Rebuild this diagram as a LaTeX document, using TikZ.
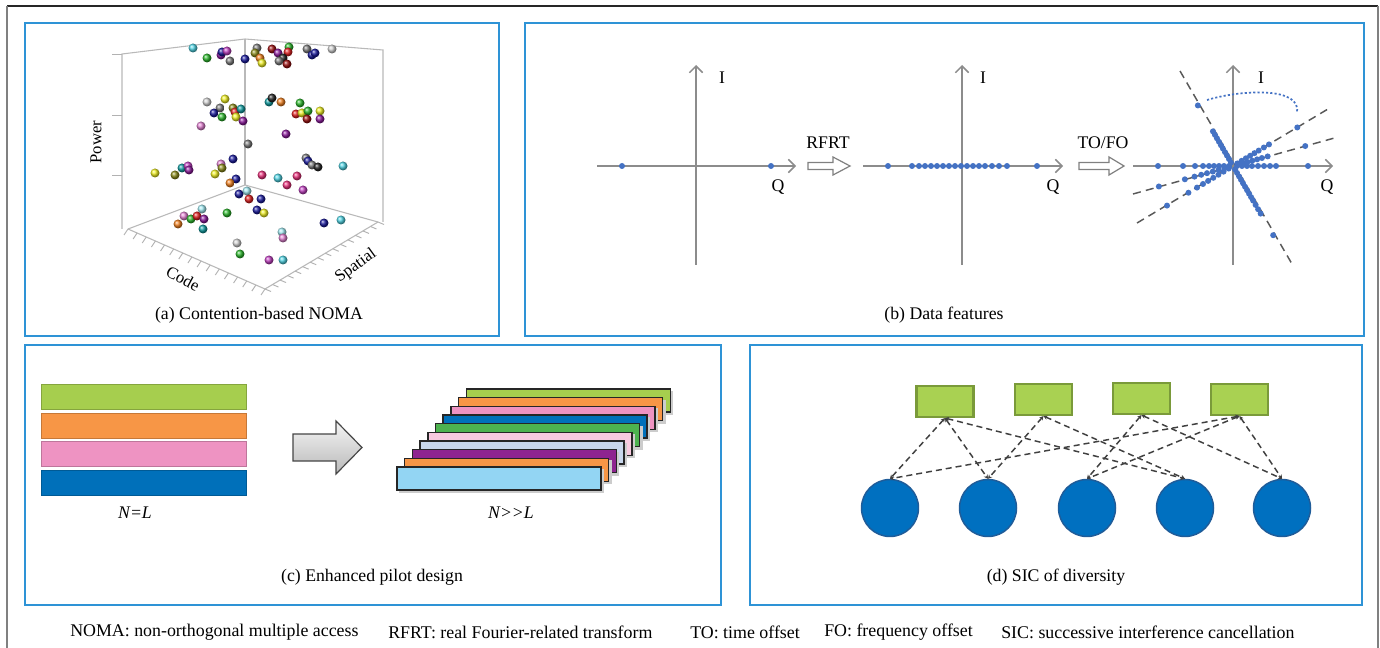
\documentclass[tikz,border=0pt]{standalone}
\usepackage{fontspec}
\setmainfont{Liberation Serif}
\usetikzlibrary{arrows.meta,calc}

\definecolor{panelblue}{HTML}{2E93D6}
\definecolor{axisgray}{HTML}{8C8C8C}
\definecolor{dotblue}{HTML}{4472C4}
\definecolor{limefill}{HTML}{A9D152}
\definecolor{limeedge}{HTML}{7A9A3A}
\definecolor{ueblue}{HTML}{0070C0}
\definecolor{ueedge}{HTML}{1F5C99}
\definecolor{barlime}{HTML}{A6CE4E}
\definecolor{barorange}{HTML}{F79646}
\definecolor{barpink}{HTML}{EE93C2}
\definecolor{barblue}{HTML}{0070BA}
\definecolor{bargreen}{HTML}{4DB24F}
\definecolor{barlpink}{HTML}{F8CADF}
\definecolor{barpale}{HTML}{C9D7EC}
\definecolor{barpurple}{HTML}{8E2490}
\definecolor{barlblue}{HTML}{93D5F3}
% sphere colours for the scatter
\definecolor{bcyan}{HTML}{4FD3E3}
\definecolor{bgreen}{HTML}{2DB82D}
\definecolor{bnavy}{HTML}{1A1A9C}
\definecolor{bmag}{HTML}{C040C0}
\definecolor{bpurple}{HTML}{8B1A9B}
\definecolor{bgray}{HTML}{7A7A7A}
\definecolor{bblack}{HTML}{262626}
\definecolor{bolive}{HTML}{8A8A1A}
\definecolor{borange}{HTML}{F08020}
\definecolor{byellow}{HTML}{EEEE22}
\definecolor{bdred}{HTML}{9B1010}
\definecolor{bred}{HTML}{E02020}
\definecolor{blgray}{HTML}{CFCFCF}
\definecolor{bteal}{HTML}{109CA0}
\definecolor{bpink}{HTML}{E080D0}
\definecolor{bhot}{HTML}{E8307A}
\definecolor{blcyan}{HTML}{A0E8F0}

\tikzset{
  panel/.style={draw=panelblue, line width=1.2pt},
  caption/.style={font=\fontsize{13.3}{16}\selectfont, inner sep=0pt},
  note/.style={font=\fontsize{13.4}{16}\selectfont, inner sep=0pt, anchor=west},
  wall/.style={draw=gray!55, line width=0.8pt},
  tick/.style={draw=gray!60, line width=0.7pt},
  ball/.style={shading=ball, ball color=#1},
  iqaxis/.style={draw=axisgray, line width=1.1pt, -{Straight Barb[length=5pt,width=10pt]}},
  sym/.style={fill=dotblue},
  guide/.style={draw=gray!70!black, line width=1.1pt, dash pattern=on 6pt off 4pt},
  hollow/.style={draw=gray, line width=0.9pt, fill=white},
  stripe/.style={draw=#1!80!black, fill=#1, line width=0.6pt},
  layer/.style={draw=black!85, fill=#1, line width=1.1pt},
  pilotbox/.style={draw=limeedge, fill=limefill, line width=1.6pt, minimum width=57*0.75pt, minimum height=31*0.75pt, inner sep=0pt},
  ue/.style={circle, draw=ueedge, fill=ueblue, line width=1.1pt, minimum size=57*0.75pt, inner sep=0pt},
  link/.style={draw=black!75, line width=1.1pt, dash pattern=on 4.5pt off 3pt, {Stealth[length=3pt,width=3.2pt]}-{Stealth[length=3pt,width=3.2pt]}}
}

\begin{document}
\begin{tikzpicture}[x=0.75pt, y=-0.75pt]
\useasboundingbox (0,0) rectangle (1380,648);
\fill[white] (0,0) rectangle (1380,648);

% outer frame
\draw[black!85, line width=1.2pt] (7,6) -- (1378,6);
\draw[gray, line width=1.5pt] (7,6) -- (7,660);
\draw[gray, line width=1.5pt] (1378,6) -- (1378,660);

% panel frames
\draw[panel] (25,23) rectangle (499,336);
\draw[panel] (525,23) rectangle (1364,336);
\draw[panel] (25,345) rectangle (721,605);
\draw[panel] (750,345) rectangle (1362,605);

% ---------- (a) 3-D scatter ----------
\coordinate (tl) at (122,54);
\coordinate (tb) at (245,39);
\coordinate (tr) at (383,50);
\coordinate (bl) at (122,229);
\coordinate (bb) at (245,185);
\coordinate (br) at (383,222);
\coordinate (fl) at (128,229);
\coordinate (ff) at (265,289);
\coordinate (fr) at (378,222);
\draw[wall] (bl) -- (tl) -- (tb) -- (tr) -- (br);
\draw[wall] (tb) -- (bb);
\draw[wall] (fl) -- (bb) -- (fr);
\draw[wall] (fl) -- (ff) -- (fr);
\foreach \y in {54,115,175} \draw[tick] (122,\y) -- (112,\y);
\foreach \i in {0,...,15} {
  \draw[tick] ($(fl)!\i/15!(ff)$) -- ++(-4,6);
  \draw[tick] ($(ff)!\i/15!(fr)$) -- ++(6,2.5);
}
\node[caption, rotate=90, font=\fontsize{12.5}{15}\selectfont] (lpower) at (96,142) {Power};
\node[caption, rotate=-28, font=\fontsize{12.5}{15}\selectfont] (lcode) at (183,279) {Code};
\node[caption, rotate=36, font=\fontsize{12.5}{15}\selectfont] (lspatial) at (356,266) {Spatial};

\foreach \x/\y/\c in {
 193/48/bcyan, 207/58/bgreen, 221/55/bpurple, 222/52/bnavy, 227/51/bmag, 230/61/bgray,
 245/59/bnavy, 257/48/bgray, 255/53/bolive, 260/58/borange, 262/63/byellow,
 272/49/bdred, 278/53/bpurple, 289/47/bgreen, 288/52/bred, 283/58/bblack, 279/61/bgray,
 287/64/bdred, 307/49/bgray, 312/55/bnavy, 315/53/bnavy, 332/49/blgray,
 207/102/blgray, 225/99/byellow, 220/108/bgray, 214/113/bnavy, 222/117/bgreen,
 233/108/bolive, 235/112/bred, 241/109/bteal, 236/117/byellow, 243/121/bpurple,
 201/126/bpink, 269/102/bteal, 272/98/bblack, 281/102/borange, 300/103/bgreen,
 296/114/bred, 302/113/byellow, 308/111/bgreen, 307/119/bdred, 320/111/byellow,
 320/119/bpurple, 286/134/bpurple, 248/144/bgray,
 155/173/byellow, 175/175/bolive, 182/168/bteal, 188/166/bmag, 189/170/bpurple,
 215/174/byellow, 221/164/bpink, 222/168/bolive, 233/159/bnavy, 236/179/bnavy,
 230/183/borange, 262/175/bhot, 278/178/bcyan, 287/185/bhot, 297/176/bhot,
 303/190/bmag, 306/158/bgray, 308/161/bnavy, 312/165/bgray, 318/167/bblack, 343/166/bcyan,
 247/191/blcyan, 239/194/bnavy, 249/199/bred, 261/199/bnavy, 257/210/bnavy,
 264/213/byellow, 227/213/bgreen, 202/209/blcyan, 184/216/bpink, 191/219/bgreen,
 197/216/bred, 204/219/bpurple, 178/224/borange, 203/229/bteal, 324/223/bnavy,
 341/220/bcyan, 282/232/blcyan, 283/238/bpink, 237/243/blgray, 240/254/bgreen,
 269/260/bmag, 283/260/bcyan}
  \shade[ball=\c] (\x,\y) circle (4.5);

\node[caption] (capa) at (259,315) {(a) Contention-based NOMA};

% ---------- (b) constellations ----------
% first plane
\coordinate (o1) at (696,166);
\draw[iqaxis] ($(o1)+(0,99)$) -- ($(o1)+(0,-101)$);
\draw[iqaxis] ($(o1)+(-99,0)$) -- ($(o1)+(100,0)$);
\node[caption] (i1) at (722,78) {I};
\node[caption] (q1) at (778,187) {Q};
\foreach \d in {-74,75} \fill[sym] ($(o1)+(\d,0)$) circle (3);

% RFRT step
\draw[hollow] (808,162.5) -- (833,162.5) -- (833,157) -- (850,166) -- (833,175) -- (833,169.5) -- (808,169.5) -- cycle;
\node[caption] (rfrt) at (828,143) {RFRT};

% second plane
\coordinate (o2) at (962,166);
\draw[iqaxis] ($(o2)+(0,99)$) -- ($(o2)+(0,-101)$);
\draw[iqaxis] ($(o2)+(-99,0)$) -- ($(o2)+(101,0)$);
\node[caption] (i2) at (983,78) {I};
\node[caption] (q2) at (1053,187) {Q};
\foreach \d in {-74,-50,-43,-37,-31,-25,-19,-13,-7,-1,5,11,17,23,30,37,45,75}
  \fill[sym] ($(o2)+(\d,0)$) circle (3);

% TO/FO step
\draw[hollow] (1079,162.5) -- (1109,162.5) -- (1109,157) -- (1124,166) -- (1109,175) -- (1109,169.5) -- (1079,169.5) -- cycle;
\node[caption] (tofo) at (1103,143) {TO/FO};

% third plane
\coordinate (o3) at (1233,166);
\draw[guide] (1180,71) -- (1292,264);
\draw[guide] (1137,223) -- (1328,109);
\draw[guide] (1133,194) -- (1338,137);
\draw[iqaxis] ($(o3)+(0,99)$) -- ($(o3)+(0,-101)$);
\draw[iqaxis] ($(o3)+(-100,0)$) -- ($(o3)+(100,0)$);
\node[caption] (i3) at (1261,78) {I};
\node[caption] (q3) at (1327,187) {Q};
% steep rotated branch
\foreach \t in {-70,-40,-36,-32,-28,-24,-20,-16,-12,-8,-4,4,8,12,16,20,24,28,32,36,40,45,50,55,80}
  \fill[sym] ($(o3)+(0.502*\t,0.865*\t)$) circle (3);
% shallow rotated branch
\foreach \t in {-77,-52,-42,-35,-29,-23,-17,-11,-5,5,10,15,20,25,30,36,42,75}
  \fill[sym] ($(o3)+(0.857*\t,-0.514*\t)$) circle (3);
% flatter rotated branch
\foreach \t in {-77,-50,-40,-33,-27,-21,-15,-9,-4,5,10,15,20,25,30,36,75}
  \fill[sym] ($(o3)+(0.963*\t,-0.266*\t)$) circle (3);
% branch on the Q axis
\foreach \t in {-75,-50,-38,-30,-24,-19,-14,-9,-4,4,9,14,19,25,31,37,43,75}
  \fill[sym] ($(o3)+(\t,0)$) circle (3);
\draw[dotblue, line width=1.3pt, dash pattern=on 1.6pt off 1.6pt]
  (1207,100) .. controls (1240,90) and (1302,86) .. (1297,113);

\node[caption] (capb) at (944,315) {(b) Data features};

% ---------- (c) pilot design ----------
\node[stripe=barlime, minimum width=205*0.75pt, minimum height=25*0.75pt, inner sep=0pt] (s1) at (143.5,396.5) {};
\node[stripe=barorange, minimum width=205*0.75pt, minimum height=25*0.75pt, inner sep=0pt] (s2) at (143.5,425.5) {};
\node[stripe=barpink, minimum width=205*0.75pt, minimum height=25*0.75pt, inner sep=0pt] (s3) at (143.5,453.5) {};
\node[stripe=barblue, minimum width=205*0.75pt, minimum height=25*0.75pt, inner sep=0pt] (s4) at (143.5,482.5) {};
\node[caption] (nl) at (135,513) {\itshape N=L};

\draw[draw=gray!55!black, line width=0.9pt, top color=gray!8, bottom color=gray!55]
  (293,434) -- (336,434) -- (336,421) -- (362,447.5) -- (336,474) -- (336,461) -- (293,461) -- cycle;

\foreach \i/\c in {9/barlime,8/barorange,7/barpink,6/barblue,5/bargreen,4/barlpink,3/barpale,2/barpurple,1/barorange,0/barlblue} {
  \fill[black!20] ($(399+7.7*\i,469-8.67*\i)$) rectangle ++(205,24);
  \draw[layer=\c] ($(397+7.7*\i,467-8.67*\i)$) rectangle ++(204,23);
}
\node[caption] (nggl) at (511,513) {\itshape N>{}>L};

\node[caption] (capc) at (372,577) {(c) Enhanced pilot design};

% ---------- (d) SIC graph ----------
\node[pilotbox] (r1) at (945,401.5) {};
\node[pilotbox] (r2) at (1043.5,399.5) {};
\node[pilotbox] (r3) at (1141.5,398.5) {};
\node[pilotbox] (r4) at (1239.5,399.5) {};
\node[ue] (c1) at (890,508) {};
\node[ue] (c2) at (988,508) {};
\node[ue] (c3) at (1087,508) {};
\node[ue] (c4) at (1185,508) {};
\node[ue] (c5) at (1282,508) {};
\draw[link] (r1.south) -- (c1.north);
\draw[link] (r1.south) -- (c2.north);
\draw[link] (r1.south) -- (c4.north);
\draw[link] (r2.south) -- (c2.north);
\draw[link] (r2.south) -- (c4.north);
\draw[link] (r3.south) -- (c3.north);
\draw[link] (r3.south) -- (c5.north);
\draw[link] (r4.south) -- (c1.north);
\draw[link] (r4.south) -- (c3.north);
\draw[link] (r4.south) -- (c5.north);

\node[caption] (capd) at (1056,577) {(d) SIC of diversity};

% ---------- abbreviations ----------
\node[note] (ab1) at (70,632) {NOMA: non-orthogonal multiple access};
\node[note] (ab2) at (388,632) {RFRT: real Fourier-related transform};
\node[note] (ab3) at (690,632) {TO: time offset};
\node[note] (ab4) at (824,632) {FO: frequency offset};
\node[note] (ab5) at (1001,632) {SIC: successive interference cancellation};
\end{tikzpicture}
\end{document}
